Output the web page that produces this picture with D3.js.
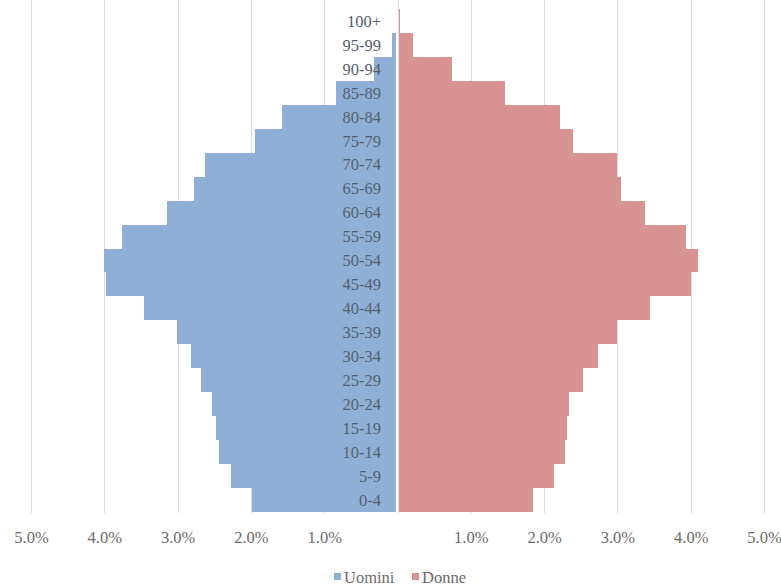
<!DOCTYPE html>
<html>
<head>
<meta charset="utf-8">
<script src="https://cdn.jsdelivr.net/npm/d3@7"></script>
<style>
  html, body { margin: 0; padding: 0; background: #fff; }
  svg { display: block; }
</style>
</head>
<body>
<svg id="chart" width="781" height="588"></svg>
<script>
// Age classes, from the oldest (top) to the youngest (bottom)
const ageGroups = ["100+", "95-99", "90-94", "85-89", "80-84", "75-79", "70-74", "65-69",
  "60-64", "55-59", "50-54", "45-49", "40-44", "35-39", "30-34", "25-29",
  "20-24", "15-19", "10-14", "5-9", "0-4"];

// Share of total population (%) by sex
const uomini = [0.01, 0.07, 0.32, 0.84, 1.58, 1.95, 2.63, 2.78, 3.15, 3.76, 4.00, 3.97,
  3.46, 3.01, 2.82, 2.68, 2.53, 2.47, 2.43, 2.27, 1.99];
const donne = [0.03, 0.21, 0.74, 1.47, 2.22, 2.40, 2.99, 3.05, 3.38, 3.93, 4.10, 4.01,
  3.45, 2.99, 2.74, 2.53, 2.34, 2.31, 2.29, 2.13, 1.85];

const tickValues = [-5, -4, -3, -2, -1, 1, 2, 3, 4, 5];
const seriesNames = ["Uomini", "Donne"];
const colors = { Uomini: "#8fafd7", Donne: "#d99393" };

const svg = d3.select("#chart");
const font = "'Liberation Serif', 'DejaVu Serif', serif";

const x = d3.scaleLinear().domain([-5, 5]).range([31, 764]);
const y = d3.scaleBand().domain(ageGroups).range([9, 512]).padding(0);

// Vertical gridlines
svg.append("g")
  .selectAll("line")
  .data(tickValues.concat([0]))
  .join("line")
  .attr("x1", d => Math.round(x(d)) + 0.5)
  .attr("x2", d => Math.round(x(d)) + 0.5)
  .attr("y1", 0)
  .attr("y2", 513)
  .attr("stroke", "#dcdcdc")
  .attr("stroke-width", 1);

const gap = 1.6;
const barTop = d => Math.round(y(d));
const barHeight = d => Math.round(y(d) + y.bandwidth()) - Math.round(y(d));

// Men, to the left of the axis
svg.append("g")
  .attr("shape-rendering", "crispEdges")
  .selectAll("rect")
  .data(ageGroups)
  .join("rect")
  .attr("x", (d, i) => x(-uomini[i]))
  .attr("y", barTop)
  .attr("width", (d, i) => Math.max(0, x(0) - x(-uomini[i]) - gap))
  .attr("height", barHeight)
  .attr("fill", colors.Uomini);

// Women, to the right of the axis
svg.append("g")
  .attr("shape-rendering", "crispEdges")
  .selectAll("rect")
  .data(ageGroups)
  .join("rect")
  .attr("x", x(0) + gap)
  .attr("y", barTop)
  .attr("width", (d, i) => Math.max(0, x(donne[i]) - x(0) - gap))
  .attr("height", barHeight)
  .attr("fill", colors.Donne);

// Age labels near the centre
svg.append("g")
  .selectAll("text")
  .data(ageGroups)
  .join("text")
  .attr("x", 381)
  .attr("y", d => y(d) + y.bandwidth() / 2)
  .attr("dy", "0.35em")
  .attr("text-anchor", "end")
  .attr("font-family", font)
  .attr("font-size", 16.5)
  .attr("fill", "#56606c")
  .text(d => d);

// Percentage axis
const axis = d3.axisBottom(x)
  .tickValues(tickValues)
  .tickSize(0)
  .tickPadding(0)
  .tickFormat(d => d3.format(".1f")(Math.abs(d)) + "%");

const gAxis = svg.append("g")
  .attr("transform", "translate(0,537)")
  .call(axis);
gAxis.select(".domain").remove();
gAxis.selectAll("text")
  .attr("dy", "0.35em")
  .attr("font-family", font)
  .attr("font-size", 16.5)
  .attr("fill", "#6b6b6b");

// Legend
const legendItems = [
  { name: seriesNames[0], x: 334 },
  { name: seriesNames[1], x: 412 }
];
const lg = svg.append("g").attr("transform", "translate(0,577)");
lg.selectAll("rect")
  .data(legendItems)
  .join("rect")
  .attr("x", d => d.x)
  .attr("y", -4)
  .attr("width", 7)
  .attr("height", 7)
  .attr("fill", d => colors[d.name]);
lg.selectAll("text")
  .data(legendItems)
  .join("text")
  .attr("x", d => d.x + 10)
  .attr("y", 0)
  .attr("dy", "0.35em")
  .attr("font-family", font)
  .attr("font-size", 16.5)
  .attr("fill", "#6b6b6b")
  .text(d => d.name);
</script>
</body>
</html>
